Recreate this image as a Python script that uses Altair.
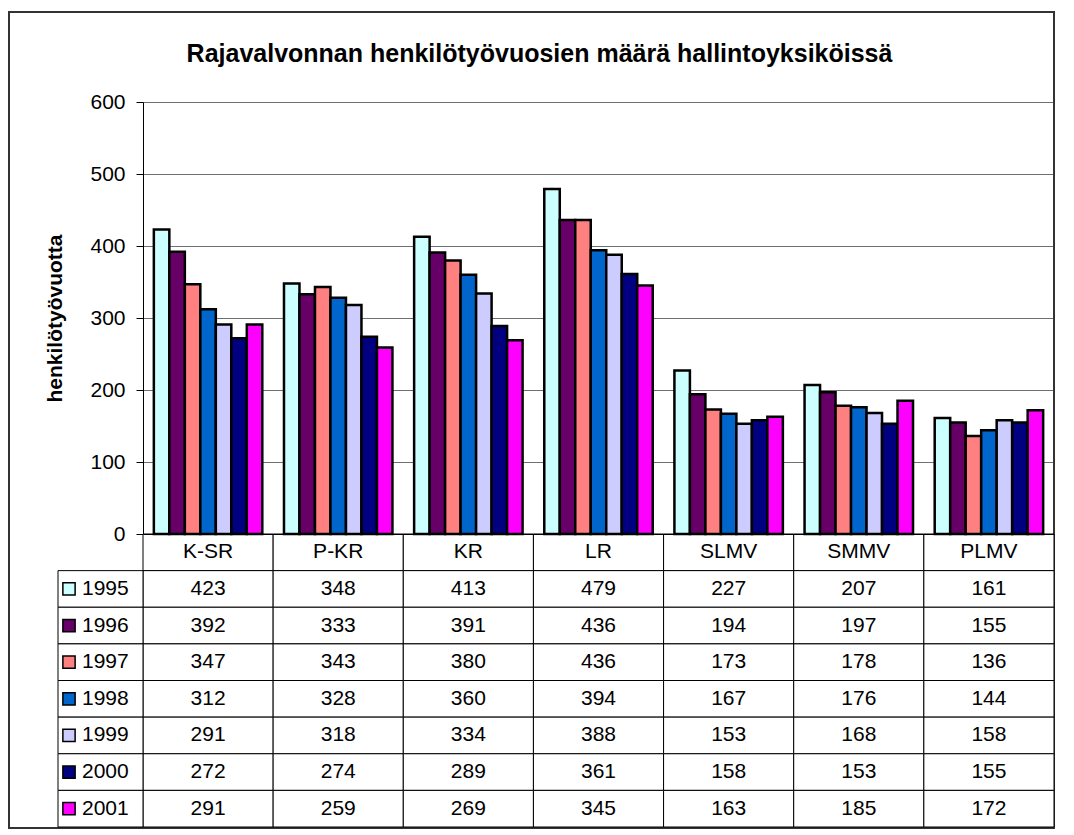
import altair as alt
import pandas as pd

categories = ["K-SR", "P-KR", "KR", "LR", "SLMV", "SMMV", "PLMV"]
years = ["1995", "1996", "1997", "1998", "1999", "2000", "2001"]
colors = ["#CCFFFF", "#660066", "#FF8080", "#0066CC", "#CCCCFF", "#000080", "#FF00FF"]

v1995 = [423, 348, 413, 479, 227, 207, 161]
v1996 = [392, 333, 391, 436, 194, 197, 155]
v1997 = [347, 343, 380, 436, 173, 178, 136]
v1998 = [312, 328, 360, 394, 167, 176, 144]
v1999 = [291, 318, 334, 388, 153, 168, 158]
v2000 = [272, 274, 289, 361, 158, 153, 155]
v2001 = [291, 259, 269, 345, 163, 185, 172]

series = [v1995, v1996, v1997, v1998, v1999, v2000, v2001]

title_text = "Rajavalvonnan henkilötyövuosien määrä hallintoyksiköissä"
y_title = "henkilötyövuotta"

FONT = "Liberation Sans"
FS = 21

rows = []
for y, vals in zip(years, series):
    for c, v in zip(categories, vals):
        rows.append({"cat": c, "year": y, "value": v})
df = pd.DataFrame(rows)

trows = [{"cat": c, "row": "hdr", "label": c} for c in categories]
for y, vals in zip(years, series):
    for c, v in zip(categories, vals):
        trows.append({"cat": c, "row": y, "label": str(v)})
tdf = pd.DataFrame(trows)

ydf = pd.DataFrame({"year": years, "row": years})

row_domain = ["hdr"] + years
W, H = 911, 432
TBL_BOTTOM = 725

xenc = alt.X("cat:N", sort=categories,
             scale=alt.Scale(domain=categories, paddingInner=0, paddingOuter=0),
             axis=alt.Axis(labels=False, ticks=False, domain=True, domainColor="black",
                           grid=False, title=None))
row_scale = alt.Scale(domain=row_domain, range=[H, TBL_BOTTOM], paddingInner=0, paddingOuter=0)
color_enc = alt.Color("year:N", scale=alt.Scale(domain=years, range=colors), legend=None)

frame = alt.Chart(pd.DataFrame({"a": [0]})).mark_rect(
    filled=False, stroke="#333333", strokeWidth=2
).encode(x=alt.value(-134), x2=alt.value(W), y=alt.value(-90), y2=alt.value(TBL_BOTTOM + 1))

bars = alt.Chart(df).mark_bar(stroke="black", strokeWidth=2.5).encode(
    x=xenc,
    xOffset=alt.XOffset("year:N", sort=years, scale=alt.Scale(domain=years, paddingInner=0, paddingOuter=0.7)),
    y=alt.Y("value:Q", scale=alt.Scale(domain=[0, 600]),
            axis=alt.Axis(values=[0, 100, 200, 300, 400, 500, 600], grid=True, gridColor="#707070",
                          gridOpacity=1, domainColor="black", tickColor="black", tickSize=7,
                          labelFont=FONT, labelFontSize=FS, labelColor="black", labelPadding=11,
                          title=y_title, titleFont=FONT, titleFontSize=FS, titleFontWeight="bold",
                          titleColor="black", titlePadding=24)),
    color=color_enc,
)

cells = alt.Chart(tdf).mark_rect(fill="white", stroke="black", strokeWidth=1).encode(
    x=alt.X("cat:N", sort=categories),
    y=alt.Y("row:N", scale=row_scale, axis=None),
)

cell_text = alt.Chart(tdf).mark_text(font=FONT, fontSize=FS, color="black", baseline="middle").encode(
    x=alt.X("cat:N", sort=categories),
    y=alt.Y("row:N", scale=row_scale, axis=None),
    text="label:N",
)

left_cells = alt.Chart(ydf).mark_rect(fill="white", stroke="black", strokeWidth=1).encode(
    x=alt.value(-85), x2=alt.value(0),
    y=alt.Y("row:N", scale=row_scale, axis=None),
)

keys = alt.Chart(ydf).mark_square(size=150, stroke="black", strokeWidth=1.5, opacity=1, filled=True).encode(
    x=alt.value(-74),
    y=alt.Y("row:N", scale=row_scale, axis=None),
    color=color_enc,
)

key_text = alt.Chart(ydf).mark_text(font=FONT, fontSize=FS, color="black", align="left",
                                     baseline="middle").encode(
    x=alt.value(-61),
    y=alt.Y("row:N", scale=row_scale, axis=None),
    text="year:N",
)

chart = alt.layer(frame, cells, cell_text, left_cells, keys, key_text, bars).resolve_scale(
    y="independent"
).properties(
    width=W, height=H,
    title=alt.TitleParams(title_text, font=FONT, fontSize=25, fontWeight="bold", color="black",
                          anchor="middle", dx=-59, offset=0, dy=56),
    autosize=alt.AutoSizeParams(type="none"),
    padding={"left": 135, "top": 94, "right": 12, "bottom": 296},
).configure_view(stroke=None).configure(font=FONT)

chart.save("out.html", embed_options={"renderer": "svg", "actions": False})
